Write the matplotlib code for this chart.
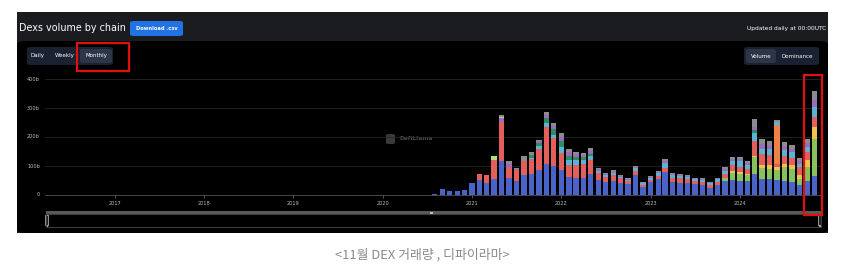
import matplotlib
matplotlib.use("Agg")
import matplotlib.pyplot as plt
import matplotlib.dates as mdates
from matplotlib.patches import FancyBboxPatch, Rectangle
import pandas as pd

# monthly DEX volume by chain, in billions (Jul 2020 - Nov 2024)
months = pd.date_range("2020-07-01", periods=53, freq="MS")

ethereum = [1, 5, 20, 13, 13, 16,
            42, 52, 41, 55, 116, 57, 49, 69, 72, 87, 106, 100,
            87, 61, 57, 59, 72, 52, 46, 49, 43, 38, 70, 29,
            45, 55, 80, 45, 40, 42, 37, 34, 25, 34, 50, 52,
            50, 50, 72, 55, 55, 52, 48, 46, 36, 47, 66]
solana = [0] * 6 + [0] * 12 + [0] * 12 + \
         [0, 0, 0, 0, 0, 0, 0, 0, 0, 2, 8, 25] + \
         [22, 18, 58, 38, 36, 34, 48, 45, 20, 50, 127]
base = [0] * 6 + [0] * 12 + [0] * 12 + [0] * 11 + [5] + \
       [6, 5, 6, 12, 14, 10, 12, 12, 12, 22, 43]
bsc = [0] * 6 + \
      [0, 19, 29, 64, 136, 41, 37, 49, 51, 70, 130, 95] + \
      [57, 42, 46, 48, 49, 25, 17, 20, 14, 11, 12, 7] + \
      [8, 10, 12, 13, 18, 14, 10, 10, 8, 10, 14, 20] + \
      [20, 18, 50, 35, 33, 12, 28, 26, 28, 28, 34]
tron = [0] * 6 + [0] * 12 + [0] * 12 + [0] * 12 + \
       [0, 0, 0, 0, 0, 135, 0, 0, 0, 0, 0]
arbitrum = [0] * 6 + \
           [0, 0, 0, 0, 0, 0, 0, 0, 6, 12, 12, 12] + \
           [20, 18, 16, 14, 12, 6, 6, 7, 5, 4, 10, 4] + \
           [7, 10, 20, 10, 8, 7, 7, 7, 7, 9, 12, 15] + \
           [18, 14, 27, 20, 22, 10, 20, 18, 12, 18, 32]
avalanche = [0] * 6 + \
            [0, 0, 0, 0, 0, 0, 0, 0, 8, 10, 18, 20] + \
            [22, 14, 12, 10, 10, 0, 0, 0, 0, 0, 0, 0] + [0] * 12 + \
            [0, 0, 10, 0, 0, 0, 0, 0, 0, 0, 0]
polygon = [0] * 6 + \
          [0, 0, 0, 0, 14, 10, 4, 0, 0, 6, 10, 12] + \
          [14, 12, 10, 8, 10, 5, 4, 5, 4, 2, 5, 2] + \
          [3, 4, 5, 4, 3, 3, 3, 3, 3, 3, 6, 7] + \
          [8, 7, 12, 15, 12, 0, 14, 12, 10, 14, 26]
heco = [0] * 6 + [0, 0, 0, 14, 4, 0, 0, 0, 0, 0, 0, 0] + [0] * 12 + [0] * 12 + [0] * 11
others = [0] * 6 + \
         [0, 0, 0, 0, 7, 8, 2, 15, 10, 6, 10, 10] + \
         [14, 10, 8, 7, 9, 5, 4, 4, 3, 2, 4, 2] + \
         [3, 4, 6, 3, 3, 3, 2, 3, 2, 2, 5, 6] + \
         [6, 5, 27, 18, 14, 5, 13, 12, 8, 13, 29]

series = [ethereum, solana, base, bsc, tron, arbitrum, avalanche, polygon, heco, others]
colors = ['#4a63c8', '#86c15c', '#f2c04f', '#e35f5b', '#ef8049',
          '#5ab3d5', '#2e8b5e', '#9a6cbc', '#b5dc78', '#8c8c8c']

years = [2017, 2018, 2019, 2020, 2021, 2022, 2023, 2024]
yticks = [0, 100, 200, 300, 400]
ylabels = ['0', '100b', '200b', '300b', '400b']

W, H = 845, 264


def fx(x):
    return x / W


def fy(y):
    return 1 - y / H


def box(x, y, w, h, color, r=0.005, z=0, **kw):
    # pixel coords from top-left, rounded box in figure coords
    fig.patches.append(FancyBboxPatch((fx(x), fy(y + h)), fx(w), h / H,
                                      boxstyle=f"round,pad=0,rounding_size={r}",
                                      transform=fig.transFigure, facecolor=color,
                                      edgecolor=kw.get('ec', 'none'), linewidth=kw.get('lw', 0),
                                      zorder=z))


fig = plt.figure(figsize=(W / 100, H / 100), dpi=100)
fig.patch.set_facecolor('white')

# dark card
fig.patches.append(Rectangle((fx(17), fy(233)), fx(811), 221 / H, transform=fig.transFigure,
                             facecolor='#1b1c1f', edgecolor='none', zorder=-2))
box(17, 41, 811, 192, 'black', r=0.012, z=-1)

fig.text(fx(19), fy(28), "Dexs volume by chain", color='white', fontsize=6.9, va='center', ha='left')
box(130, 21, 53, 15, '#2172e5')
fig.text(fx(156.5), fy(28.5), "Download .csv", color='white', fontsize=3.7, fontweight='bold',
         va='center', ha='center')
fig.text(fx(826), fy(28.5), "Updated daily at 00:00UTC", color='white', fontsize=4.2,
         va='center', ha='right')

# period buttons
box(27, 47, 86, 18, '#1a2130', r=0.006)
box(80, 49, 32, 14, '#2c3647')
for label, x in [("Daily", 38), ("Weekly", 65), ("Monthly", 96)]:
    fig.text(fx(x), fy(56), label, color='white', fontsize=4, va='center', ha='center')
fig.patches.append(Rectangle((fx(77), fy(71)), fx(52), 28 / H, transform=fig.transFigure,
                             facecolor='none', edgecolor='#e01010', linewidth=1.6, zorder=10))

# volume / dominance toggle
box(744, 47, 75, 18, '#1a2130', r=0.006)
box(746, 49, 30, 14, '#2c3647')
fig.text(fx(761), fy(56), "Volume", color='white', fontsize=4, va='center', ha='center')
fig.text(fx(797), fy(56), "Dominance", color='white', fontsize=4, va='center', ha='center')

# watermark
fig.text(fx(400), fy(139), "DefiLlama", color='#4a4a4a', fontsize=4.2, fontweight='bold',
         va='center', ha='left')
box(386, 134, 9, 10, '#3a3a3a', r=0.004)

# main chart
ax = fig.add_axes([fx(45), fy(195), fx(822) - fx(45), fy(79) - fy(195)])
ax.set_zorder(5)
ax.set_facecolor('none')
d2017 = mdates.date2num(pd.Timestamp("2017-01-01"))
day_per_px = 365.25 / 89.29
ax.set_xlim(d2017 - 70 * day_per_px, d2017 + 707 * day_per_px)
ax.set_ylim(0, 400)

xs = mdates.date2num(months)
bottom = [0] * len(months)
for vals, c in zip(series, colors):
    ax.bar(xs, vals, width=22, bottom=bottom, color=c, linewidth=0, zorder=3)
    bottom = [b + v for b, v in zip(bottom, vals)]

ax.set_yticks(yticks)
ax.set_yticklabels([])
for v, lab in zip(yticks, ylabels):
    ax.text(-5 / 777, v, lab, transform=ax.get_yaxis_transform(), color='#bbbbbb',
            fontsize=3.6, va='center', ha='right')
ax.grid(axis='y', color='#262626', linewidth=0.6, zorder=0)
ax.set_xticks([mdates.date2num(pd.Timestamp(f"{y}-01-01")) for y in years])
ax.set_xticklabels([str(y) for y in years], color='#bbbbbb', fontsize=3.6)
ax.tick_params(axis='x', length=2, width=0.5, color='#777777', pad=2)
ax.tick_params(axis='y', length=0)
for s in ['top', 'right', 'left']:
    ax.spines[s].set_visible(False)
ax.spines['bottom'].set_color('#555555')
ax.spines['bottom'].set_linewidth(0.6)

# zoom slider
fig.patches.append(Rectangle((fx(46), fy(214)), fx(775), 3 / H, transform=fig.transFigure,
                             facecolor='#5a5a5a', edgecolor='none'))
fig.patches.append(Rectangle((fx(46), fy(227)), fx(775), 13 / H, transform=fig.transFigure,
                             facecolor='none', edgecolor='#3c3c3c', linewidth=0.8))
for hx in [47, 820]:
    box(hx - 1.5, 215, 3, 11, '#222222', r=0.003, ec='#aaaaaa', lw=0.6)
fig.patches.append(Rectangle((fx(430.5), fy(213.5)), fx(2), 2 / H, transform=fig.transFigure,
                             facecolor='#bbbbbb', edgecolor='none'))

# red highlight around the latest month
fig.patches.append(Rectangle((fx(804), fy(215)), fx(18), 140 / H, transform=fig.transFigure,
                             facecolor='none', edgecolor='#e01010', linewidth=1.6, zorder=10))

fig.text(fx(422), fy(255), "<11월 DEX 거래량 , 디파이라마>", color='#8a8a8a', fontsize=9.3,
         family=['Noto Sans CJK KR', 'DejaVu Sans'], va='center', ha='center')

fig.savefig("out.png", dpi=100, facecolor='white')
